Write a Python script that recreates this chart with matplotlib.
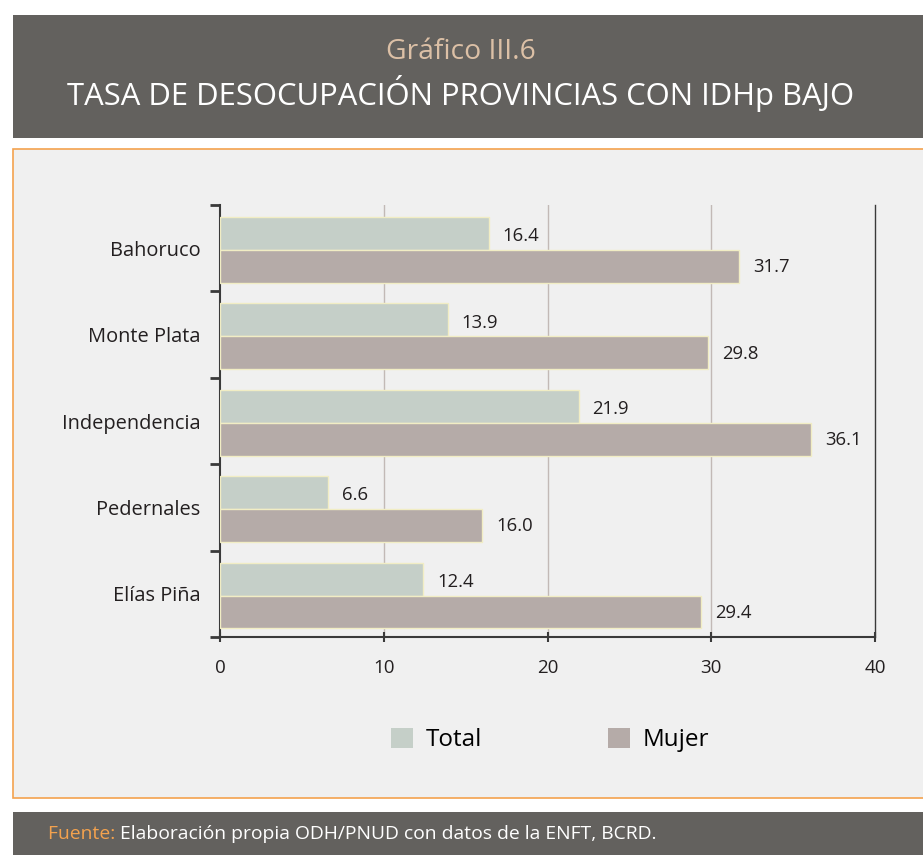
import matplotlib
matplotlib.use("Agg")
import matplotlib.pyplot as plt
from matplotlib.patches import Rectangle
import numpy as np

plt.rcParams['font.family'] = ['Open Sans', 'DejaVu Sans']

categories = ["Bahoruco", "Monte Plata", "Independencia", "Pedernales", "Elías Piña"]
total = [16.4, 13.9, 21.9, 6.6, 12.4]
mujer = [31.7, 29.8, 36.1, 16.0, 29.4]
xticks = [0, 10, 20, 30, 40]

W, H = 923, 855
fig = plt.figure(figsize=(W/100, H/100), dpi=100)
fig.patch.set_facecolor("white")

def fx(px): return px / W
def fy(py): return 1 - py / H

# header
fig.patches.append(Rectangle((fx(13), fy(138)), fx(923) - fx(13), fy(15) - fy(138),
                             transform=fig.transFigure, facecolor="#63615e", edgecolor="none", zorder=0))
fig.text(fx(461), fy(52), "Gráfico III.6", ha="center", va="center", color="#dcc0a6", fontsize=20.3)
fig.text(fx(461), fy(94), "TASA DE DESOCUPACIÓN PROVINCIAS CON IDHp BAJO", ha="center", va="center",
         color="white", fontsize=22.3)
# panel
fig.patches.append(Rectangle((fx(13), fy(798)), fx(930) - fx(13), fy(149) - fy(798),
                             transform=fig.transFigure, facecolor="#f0f0f0", edgecolor="#f4a24e", lw=1.2, zorder=0))
# footer
fig.patches.append(Rectangle((fx(13), 0), fx(923) - fx(13), fy(812),
                             transform=fig.transFigure, facecolor="#63615e", edgecolor="none", zorder=0))
t1 = fig.text(fx(48), fy(834), "Fuente: ", ha="left", va="center", color="#f4a24e", fontsize=13.9)
fig.canvas.draw()
bb = t1.get_window_extent()
fig.text(bb.x1 / W, fy(834), "Elaboración propia ODH/PNUD con datos de la ENFT, BCRD.", ha="left", va="center",
         color="white", fontsize=13.9)

ax = fig.add_axes([fx(220), fy(637), fx(875) - fx(220), fy(205) - fy(637)])
ax.set_zorder(2)
ax.set_facecolor("#f0f0f0")
n = len(categories)
y = np.arange(n)
h = 0.38
ax.barh(y - h/2 + 0.02, total, height=h, color="#c5cfc8", edgecolor="#f1edc4", lw=1, zorder=3, label="Total")
ax.barh(y + h/2 + 0.02, mujer, height=h, color="#b5aba8", edgecolor="#f1edc4", lw=1, zorder=3, label="Mujer")
for i in range(n):
    ax.text(total[i] + 0.85, y[i] - h/2 + 0.05, f"{total[i]:.1f}", va="center", ha="left", fontsize=13.3, color="#231f20", zorder=4)
    ax.text(mujer[i] + 0.85, y[i] + h/2 + 0.03, f"{mujer[i]:.1f}", va="center", ha="left", fontsize=13.3, color="#231f20", zorder=4)

ax.set_xlim(0, 40)
ax.set_ylim(n - 0.5, -0.5)
ax.set_xticks(xticks)
ax.set_xticklabels([str(t) for t in xticks], fontsize=13.5, color="#231f20")
ax.set_yticks(y)
ax.set_yticklabels(categories, fontsize=14.4, color="#231f20")
ax.set_yticks(np.arange(n + 1) - 0.5, minor=True)
ax.tick_params(axis="y", which="major", length=0, pad=14)
ax.tick_params(axis="y", which="minor", length=7, width=2, color="#3a3a3a", direction="out")
ax.tick_params(axis="x", length=7, width=1.5, color="#3a3a3a", direction="inout", pad=12)
for x in xticks[1:-1]:
    ax.axvline(x, color="#c2b9b6", lw=1, zorder=1)
for s in ["left", "bottom", "right"]:
    ax.spines[s].set_color("#3a3a3a")
    ax.spines[s].set_linewidth(1.5)
ax.spines["right"].set_linewidth(1)
ax.spines["top"].set_visible(False)

handles, labels = ax.get_legend_handles_labels()
leg = fig.legend(handles, labels, loc="center", bbox_to_anchor=(fx(550), fy(740)), ncol=2, frameon=False,
                 fontsize=17.5, handlelength=0.9, handleheight=0.9, columnspacing=5.2, handletextpad=0.5)
for p in leg.get_patches():
    p.set_edgecolor("none")

fig.savefig("out.png", dpi=100, facecolor="white")
